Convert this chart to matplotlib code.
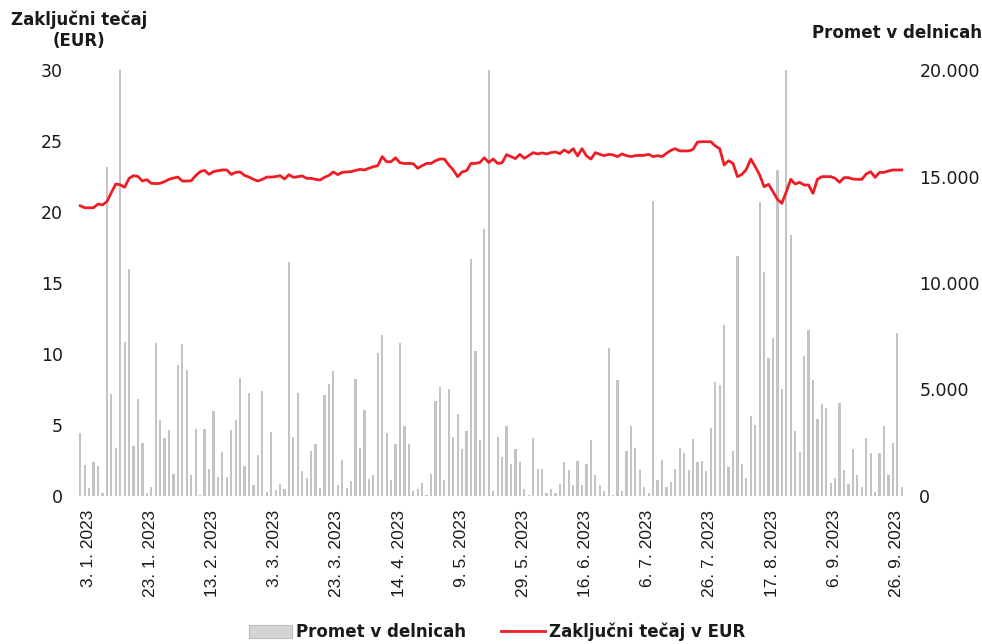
import matplotlib.pyplot as plt
from matplotlib.ticker import FuncFormatter, FixedLocator
from matplotlib.patches import Patch
from matplotlib.lines import Line2D
from matplotlib import rcParams

rcParams['font.family'] = ['DejaVu Sans']

# trading days 3. 1. 2023 - 29. 9. 2023 (186), labelled every 14th
tick_labels = ['3. 1. 2023', '23. 1. 2023', '13. 2. 2023', '3. 3. 2023', '23. 3. 2023',
               '14. 4. 2023', '9. 5. 2023', '29. 5. 2023', '16. 6. 2023', '6. 7. 2023',
               '26. 7. 2023', '17. 8. 2023', '6. 9. 2023', '26. 9. 2023']

volume = [
    2970, 1456, 375, 1580, 1410, 125, 15430, 4770, 2250, 20000,
    7245, 10670, 2360, 4540, 2470, 125, 440, 7170, 3570, 2740,
    3100, 1030, 6170, 7120, 5915, 985, 3145, 40, 3145, 1280,
    3990, 876, 2065, 876, 3100, 3570, 5555, 1410, 4850, 500,
    1940, 4945, 170, 3020, 280, 565, 310, 10990, 2785, 4850,
    1160, 860, 2130, 2425, 375, 4725, 5260, 5855, 500, 1705,
    375, 720, 5490, 2250, 4055, 800, 970, 6700, 7545, 2960,
    735, 2425, 7170, 3270, 2425, 250, 310, 610, 60, 1030,
    4475, 5130, 735, 5010, 2785, 3865, 2190, 3035, 11110, 6825,
    2615, 12550, 20000, 250, 2785, 1830, 3270,
    1520, 2190, 1580, 310, 60, 2725, 1280, 1280, 125, 310,
    125, 565, 1580, 1220, 500, 1645, 500, 1520, 2615, 985,
    500, 250, 6950, 60, 5430, 250, 2130, 3270, 2250, 1220,
    440, 125, 13870, 735, 1705, 440, 675, 1280, 2250, 2000,
    1220, 2675, 1580, 1645, 1160, 3210, 5370, 5195, 8030, 1345,
    2130, 11285, 1520, 860, 3755, 3335, 13820, 10520, 6465, 7435,
    15320, 5010, 20000, 12250, 3035, 2065, 6590, 7795, 5430, 3630,
    4300, 4115, 625, 860, 4365, 1220, 565, 2190, 985, 440,
    2725, 2000, 190, 2000, 3270, 985, 2490, 7670, 440,
]

price = [
    20.44, 20.30, 20.30, 20.30, 20.56, 20.50, 20.73, 21.36, 21.97, 21.92,
    21.74, 22.37, 22.56, 22.50, 22.18, 22.28, 22.02, 22.00, 22.02, 22.14,
    22.30, 22.39, 22.46, 22.18, 22.18, 22.20, 22.56, 22.84, 22.93, 22.65,
    22.84, 22.91, 22.96, 22.96, 22.65, 22.79, 22.82, 22.58, 22.46, 22.30,
    22.18, 22.30, 22.46, 22.46, 22.49, 22.56, 22.32, 22.63, 22.44, 22.49,
    22.54, 22.37, 22.37, 22.30, 22.25, 22.44, 22.58, 22.82, 22.63, 22.79,
    22.82, 22.84, 22.93, 23.00, 22.96, 23.08, 23.19, 23.26, 23.90, 23.54,
    23.54, 23.82, 23.47, 23.42, 23.42, 23.40, 23.08, 23.26, 23.42, 23.42,
    23.61, 23.73, 23.73, 23.31, 22.96, 22.49, 22.82, 22.91, 23.42, 23.42,
    23.49, 23.82, 23.49, 23.73, 23.42, 23.47, 24.04,
    23.90, 23.76, 24.06, 23.78, 23.97, 24.18, 24.09, 24.16, 24.09, 24.18,
    24.23, 24.11, 24.37, 24.18, 24.46, 23.95, 24.46, 23.95, 23.73, 24.18,
    24.06, 23.97, 24.06, 24.02, 23.90, 24.09, 23.97, 23.90, 23.97, 23.99,
    23.99, 24.06, 23.90, 23.97, 23.90, 24.13, 24.34, 24.46, 24.30, 24.30,
    24.30, 24.41, 24.93, 24.95, 24.95, 24.95, 24.65, 24.46, 23.31, 23.61,
    23.42, 22.49, 22.65, 23.00, 23.73, 23.19, 22.61, 21.78, 21.95, 21.43,
    20.89, 20.61, 21.43, 22.30, 21.97, 22.09, 21.90, 21.90, 21.31, 22.30,
    22.49, 22.49, 22.49, 22.37, 22.09, 22.42, 22.42, 22.32, 22.30, 22.30,
    22.68, 22.84, 22.44, 22.79, 22.79, 22.89, 22.96, 22.96, 22.96,
]

x = list(range(len(price)))
bar_color = '#c4c4c4'
line_color = '#ee1c25'
txt_color = '#1a1a1a'

fig = plt.figure(figsize=(9.82, 6.44), dpi=100)
ax = fig.add_axes([78 / 982, 1 - 496 / 644, 826 / 982, 426 / 644])
ax2 = ax.twinx()

ax2.bar(x, volume, width=0.5, color=bar_color, zorder=1)
ax.plot(x, price, color=line_color, lw=2.0, zorder=3)

ax.set_zorder(ax2.get_zorder() + 1)
ax.patch.set_visible(False)

ax.set_xlim(-0.5, len(x) - 0.5)
ax.set_ylim(0, 30)
ax2.set_ylim(0, 20000)
ax.set_yticks(range(0, 31, 5))
ax2.set_yticks(range(0, 20001, 5000))
ax2.yaxis.set_major_formatter(FuncFormatter(lambda v, p: f'{int(v):,}'.replace(',', '.')))

# labels sit a little right of their category, as in the source
ax.xaxis.set_major_locator(FixedLocator([i + 1.8 for i in range(0, len(x), 14)]))
ax.set_xticklabels(tick_labels, rotation=90, ha='center', va='top')

for a in (ax, ax2):
    for s in a.spines.values():
        s.set_visible(False)
ax.tick_params(axis='y', length=0, pad=11, labelsize=12.5, labelcolor=txt_color)
ax2.tick_params(axis='y', length=0, pad=11, labelsize=12.5, labelcolor=txt_color)
ax.tick_params(axis='x', length=0, pad=10, labelsize=12.5, labelcolor=txt_color,
               labelfontfamily='Liberation Sans')

fig.text(79 / 982, 1 - 30 / 644, 'Zaključni tečaj\n(EUR)', ha='center', va='center',
         fontsize=12, fontweight='bold', color=txt_color, linespacing=1.2)
fig.text(897 / 982, 1 - 33 / 644, 'Promet v delnicah', ha='center', va='center',
         fontsize=12, fontweight='bold', color=txt_color)

handles = [Patch(facecolor='#d4d4d4', edgecolor='#bdbdbd', lw=0.8),
           Line2D([0], [0], color=line_color, lw=2)]
fig.legend(handles, ['Promet v delnicah', 'Zaključni tečaj v EUR'], loc='center',
           bbox_to_anchor=(497 / 982, 1 - 632 / 644), ncol=2, frameon=False,
           prop={'weight': 'bold', 'size': 12}, handlelength=2.6, handleheight=0.9,
           columnspacing=2.1, handletextpad=0.25, labelcolor=txt_color)

fig.savefig('out.png', dpi=100)
